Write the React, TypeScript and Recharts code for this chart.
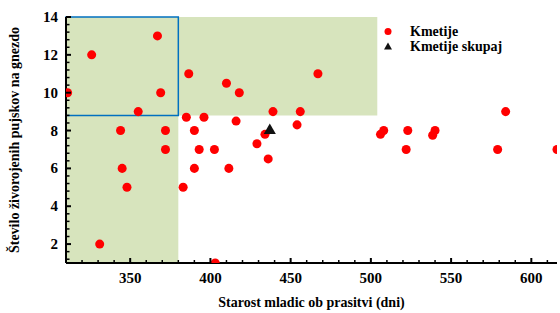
import { ScatterChart, Scatter, XAxis, YAxis, ZAxis, ReferenceArea } from 'recharts'

// starost mladic ob prasitvi (dni) / število živorojenih pujskov
const farmAge = [
  311, 326, 367, 369, 355, 344, 372, 372, 345, 348, 331, 383, 386.5, 410, 418, 439, 456, 385, 396, 416,
  390, 454, 434, 429, 393, 402.5, 436, 390, 411.5, 403, 467, 508, 506, 523, 522, 540, 538.5, 584, 579, 616,
]
const farmPiglets = [
  10, 12, 13, 10, 9, 8, 8, 7, 6, 5, 2, 5, 11, 10.5, 10, 9, 9, 8.7, 8.7, 8.5,
  8, 8.3, 7.8, 7.3, 7, 7, 6.5, 6, 6, 1, 11, 8, 7.8, 8, 7, 8, 7.75, 9, 7, 7,
]
const totalAge = [437]
const totalPiglets = [8]

const xMajorTicks = [350, 400, 450, 500, 550, 600]
const yMajorTicks = [2, 4, 6, 8, 10, 12, 14]

const xDomain = [310, 616]
const yDomain = [1, 14]

// minor ticks: x every 10, y every 0.4
const xTicks: number[] = []
for (let v = 310; v <= 610; v += 10) xTicks.push(v)
const yTicks: number[] = []
for (let i = 0; i <= 32; i++) yTicks.push(Math.round((14 - i * 0.4) * 10) / 10)

const farms = farmAge.map((x, i) => ({ x, y: farmPiglets[i] }))
const total = totalAge.map((x, i) => ({ x, y: totalPiglets[i] }))

const FONT = '"Liberation Serif", "Times New Roman", serif'
const GREEN = '#d7e4bd'

const XTick = (props: any) => {
  const { x, y, payload } = props
  const major = xMajorTicks.includes(payload.value)
  return (
    <g>
      <line x1={x} x2={x} y1={y} y2={y - (major ? 5 : 3)} stroke="#000" strokeWidth={major ? 2 : 1.5} />
      {major && (
        <text x={x} y={y + 20} textAnchor="middle" fontFamily={FONT} fontWeight="bold" fontSize={15} fill="#000">
          {payload.value}
        </text>
      )}
    </g>
  )
}

const YTick = (props: any) => {
  const { x, y, payload } = props
  const major = yMajorTicks.some(t => Math.abs(t - payload.value) < 1e-6)
  return (
    <g>
      <line x1={x} x2={x + (major ? 5 : 3.5)} y1={y} y2={y} stroke="#000" strokeWidth={major ? 2 : 1.5} />
      {major && (
        <text x={x - 8} y={y + 5} textAnchor="end" fontFamily={FONT} fontWeight="bold" fontSize={15} fill="#000">
          {payload.value}
        </text>
      )}
    </g>
  )
}

const LegendBox = () => (
  <div
    style={{
      position: 'absolute',
      left: 380,
      top: 24,
      fontFamily: FONT,
      fontWeight: 'bold',
      fontSize: 14,
      color: '#000',
      lineHeight: '15px',
    }}
  >
    <div style={{ display: 'flex', alignItems: 'center' }}>
      <svg width={30} height={15}>
        <circle cx={8} cy={7.5} r={3.5} fill="#ff0000" />
      </svg>
      <span>Kmetije</span>
    </div>
    <div style={{ display: 'flex', alignItems: 'center' }}>
      <svg width={30} height={15}>
        <polygon points="8,3.5 12,10.5 4,10.5" fill="#111" />
      </svg>
      <span>Kmetije skupaj</span>
    </div>
  </div>
)

export default function App() {
  return (
    <div style={{ position: 'absolute', left: 0, top: 0, width: 560, height: 313, background: '#fff' }}>
      <ScatterChart width={560} height={313} margin={{ top: 17, right: 3, bottom: 0, left: 0 }}>
        <XAxis
          type="number"
          dataKey="x"
          domain={xDomain}
          allowDataOverflow
          ticks={xTicks}
          interval={0}
          tickSize={0}
          tickMargin={0}
          tickLine={false}
          tick={XTick}
          height={50}
          axisLine={{ stroke: '#000', strokeWidth: 2 }}
          label={{
            value: 'Starost mladic ob prasitvi (dni)',
            position: 'insideBottom',
            offset: 6,
            style: { fontFamily: FONT, fontWeight: 'bold', fontSize: 14, fill: '#000' },
          }}
        />
        <YAxis
          type="number"
          dataKey="y"
          domain={yDomain}
          allowDataOverflow
          ticks={yTicks}
          interval={0}
          tickSize={0}
          tickMargin={0}
          tickLine={false}
          tick={YTick}
          width={66}
          axisLine={{ stroke: '#000', strokeWidth: 2 }}
          label={{
            value: 'Število živorojenih pujskov na gnezdo',
            angle: -90,
            position: 'insideLeft',
            offset: 14,
            style: { fontFamily: FONT, fontWeight: 'bold', fontSize: 14, fill: '#000', textAnchor: 'middle' },
          }}
        />
        <ZAxis range={[36, 36]} />
        <ReferenceArea x1={310} x2={380} y1={1} y2={14} fill={GREEN} fillOpacity={1} stroke="none" />
        <ReferenceArea x1={380} x2={504} y1={8.8} y2={14} fill={GREEN} fillOpacity={1} stroke="none" />
        <ReferenceArea x1={310} x2={380} y1={8.8} y2={14} fill="none" fillOpacity={0} stroke="#0070c0" strokeWidth={1.5} />
        <Scatter name="Kmetije" data={farms} fill="#ff0000" shape="circle" isAnimationActive={false} />
        <Scatter name="Kmetije skupaj" data={total} fill="#111" shape="triangle" isAnimationActive={false} />
      </ScatterChart>
      <LegendBox />
    </div>
  )
}
